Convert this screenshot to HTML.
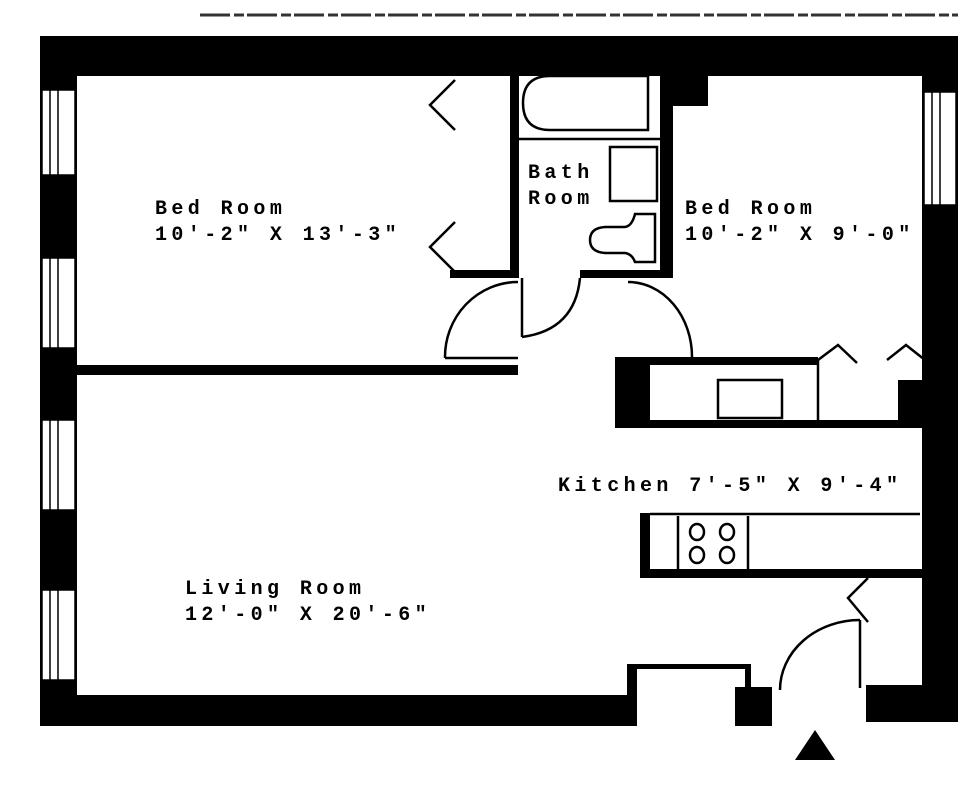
<!DOCTYPE html>
<html><head><style>
html,body{margin:0;padding:0;background:#fff;}
svg{display:block}
text{font-family:"Liberation Mono",monospace;font-size:20px;fill:#000;font-weight:bold;letter-spacing:4.4px}
</style></head><body>
<svg width="972" height="800" viewBox="0 0 972 800" xmlns="http://www.w3.org/2000/svg">
<rect width="972" height="800" fill="#fff"/>
<line x1="200" y1="15" x2="958" y2="15" stroke="#333" stroke-width="3" stroke-dasharray="30 4 10 3"/>
<g fill="#000">
<rect x="40" y="36" width="918" height="40"/>
<rect x="660" y="36" width="48" height="70"/>
<rect x="40" y="36" width="37" height="690"/>
<rect x="922" y="36" width="36" height="686"/>
<rect x="40" y="695" width="597" height="31"/>
<rect x="627" y="665" width="10" height="61"/>
<rect x="627" y="664" width="124" height="5"/>
<rect x="745" y="664" width="6" height="26"/>
<rect x="735" y="687" width="37" height="39"/>
<rect x="866" y="685" width="92" height="37"/>
<rect x="77" y="365" width="441" height="10"/>
<rect x="510" y="73" width="9" height="205"/>
<rect x="660" y="73" width="13" height="205"/>
<rect x="450" y="270" width="69" height="8"/>
<rect x="580" y="270" width="93" height="8"/>
<rect x="615" y="357" width="35" height="71"/>
<rect x="615" y="357" width="203" height="8"/>
<rect x="615" y="420" width="310" height="8"/>
<rect x="898" y="380" width="27" height="45"/>
<rect x="640" y="513" width="10" height="65"/>
<rect x="640" y="569" width="282" height="9"/>
<polygon points="795,760 835,760 815,730"/>
</g>
<g fill="#fff" stroke="#000" stroke-width="1.5">
<rect x="42" y="90" width="33" height="85"/><rect x="42" y="258" width="33" height="90"/>
<rect x="42" y="420" width="33" height="90"/><rect x="42" y="590" width="33" height="90"/>
<rect x="924" y="92" width="32" height="113"/>
</g>
<g stroke="#000" stroke-width="1.5">
<line x1="50" y1="90" x2="50" y2="175"/><line x1="58" y1="90" x2="58" y2="175"/>
<line x1="50" y1="258" x2="50" y2="348"/><line x1="58" y1="258" x2="58" y2="348"/>
<line x1="50" y1="420" x2="50" y2="510"/><line x1="58" y1="420" x2="58" y2="510"/>
<line x1="50" y1="590" x2="50" y2="680"/><line x1="58" y1="590" x2="58" y2="680"/>
<line x1="932" y1="92" x2="932" y2="205"/><line x1="940" y1="92" x2="940" y2="205"/>
</g>
<g fill="none" stroke="#000" stroke-width="2.5">
<path d="M648,76 L550,76 Q523,76 523,103 Q523,130 550,130 L648,130 Z"/>
<line x1="519" y1="139" x2="660" y2="139"/>
<rect x="610" y="147" width="47" height="54"/>
<path d="M655,214 L635,214 Q632,226 625,227 L605,227 Q590,228 590,240 Q590,252 605,253 L625,253 Q632,254 635,262 L655,262 Z"/>
<polyline points="455,80 430,105 455,130"/>
<polyline points="455,222 430,247 455,272"/>
<polyline points="818,360 838,345 857,363"/>
<polyline points="887,360 906,345 925,360"/>
<polyline points="868,578 848,598 868,622"/>
<path d="M518,282 A73,75 0 0 0 445,358"/>
<line x1="445" y1="358" x2="518" y2="358"/>
<polyline points="522,278 522,337"/>
<path d="M522,337 Q575,330 580,278"/>
<path d="M628,282 A64,75 0 0 1 692,357"/>
<line x1="860" y1="620" x2="860" y2="688"/>
<path d="M860,620 A80,70 0 0 0 780,690"/>
<rect x="718" y="380" width="64" height="38"/>
<line x1="818" y1="360" x2="818" y2="422"/>
<line x1="650" y1="514" x2="920" y2="514"/>
<line x1="678" y1="516" x2="678" y2="570"/>
<line x1="748" y1="516" x2="748" y2="570"/>
<ellipse cx="697" cy="532" rx="7" ry="8"/><ellipse cx="727" cy="532" rx="7" ry="8"/>
<ellipse cx="697" cy="555" rx="7" ry="8"/><ellipse cx="727" cy="555" rx="7" ry="8"/>
</g>
<text x="155" y="214">Bed Room</text>
<text x="155" y="240">10'-2" X 13'-3"</text>
<text x="528" y="178">Bath</text>
<text x="528" y="204">Room</text>
<text x="685" y="214">Bed Room</text>
<text x="685" y="240">10'-2" X 9'-0"</text>
<text x="558" y="491">Kitchen 7'-5" X 9'-4"</text>
<text x="185" y="594">Living Room</text>
<text x="185" y="620">12'-0" X 20'-6"</text>
</svg>
</body></html>
